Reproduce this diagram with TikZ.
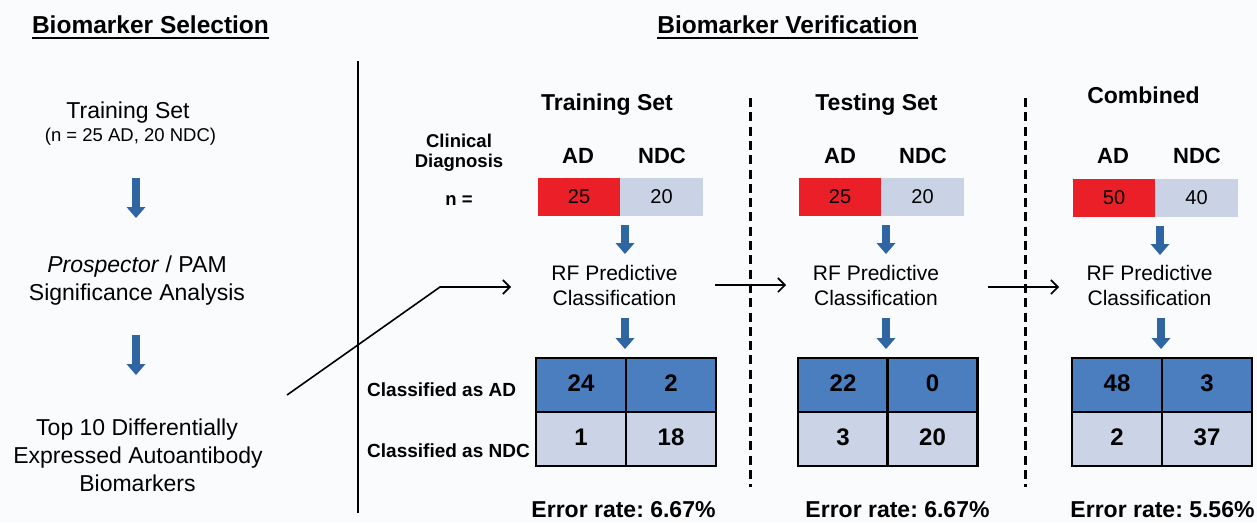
\documentclass[tikz,border=0pt]{standalone}
\usepackage{fontspec}
\setmainfont{Liberation Sans}
\usetikzlibrary{arrows.meta}
\frenchspacing
\definecolor{bgc}{HTML}{FAFBFD}
\definecolor{adred}{HTML}{EA1F27}
\definecolor{ndcgray}{HTML}{C9D3E5}
\definecolor{topblue}{HTML}{4A7EBF}
\definecolor{botgray}{HTML}{CBD4E6}
\definecolor{arrowblue}{HTML}{2F65A2}
\tikzset{
  txt/.style={anchor=base, inner sep=0pt, outer sep=0pt},
  hdr/.style={txt, font=\fontsize{24.5}{28}\selectfont\bfseries},
  lefttxt/.style={txt, font=\fontsize{23}{28}\selectfont},
  settitle/.style={txt, font=\fontsize{23}{28}\selectfont\bfseries},
  colhdr/.style={txt, font=\fontsize{22}{26}\selectfont\bfseries},
  smallbold/.style={txt, font=\fontsize{18.5}{22}\selectfont\bfseries},
  rftxt/.style={txt, font=\fontsize{21}{25}\selectfont},
  rowlbl/.style={anchor=base west, inner sep=0pt, font=\fontsize{19}{22}\selectfont\bfseries},
  errtxt/.style={txt, font=\fontsize{23}{28}\selectfont\bfseries},
  nbox/.style={minimum width=82.5pt, minimum height=38pt, inner sep=0pt, font=\fontsize{20}{24}\selectfont},
  redbox/.style={nbox, fill=adred},
  graybox/.style={nbox, fill=ndcgray},
  cell/.style={draw=black, line width=2.5pt, minimum width=90pt, minimum height=54pt, inner sep=0pt,
    text height=17.2pt, text depth=5pt, font=\fontsize{24}{28}\selectfont\bfseries},
  topcell/.style={cell, fill=topblue},
  botcell/.style={cell, fill=botgray},
  barrow/.style={draw=arrowblue, line width=8pt, -{Triangle[width=19pt,length=11pt,line width=0pt]}},
  thinarrow/.style={draw=black, line width=1.6pt, -{Straight Barb[length=7pt,width=14pt,line width=1.6pt]}},
  ulline/.style={draw=black, line width=2pt},
}
\begin{document}
\begin{tikzpicture}[x=1pt,y=-1pt]
\fill[bgc] (0,0) rectangle (1257,522);
\useasboundingbox (0,0) rectangle (1257,522);

% headers
\node[hdr] (hs) at (150.5,33) {Biomarker Selection};
\node[hdr] (hv) at (787.5,33) {Biomarker Verification};
\draw[ulline] ([yshift=-4.5pt]hs.base west) -- ([yshift=-4.5pt]hs.base east);
\draw[ulline] ([yshift=-4.5pt]hv.base west) -- ([yshift=-4.5pt]hv.base east);

% separators
\coordinate (vtop) at (358,61);
\coordinate (vbot) at (358,513);
\draw[line width=2.5pt] (vtop) -- (vbot);
\coordinate (d1top) at (750,98);
\coordinate (d1bot) at (750,487);
\coordinate (d2top) at (1025,98);
\coordinate (d2bot) at (1025,487);
\draw[line width=3pt, dash pattern=on 9pt off 5.3pt] (d1top) -- (d1bot);
\draw[line width=3pt, dash pattern=on 9pt off 5.3pt] (d2top) -- (d2bot);

% left column
\node[lefttxt] (lt1) at (128,118) {Training Set};
\node[txt, font=\fontsize{18.5}{22}\selectfont] (lt2) at (130.5,141) {(n = 25 AD, 20 NDC)};
\node[lefttxt] (lp1) at (137,272) {\textit{Prospector} / PAM};
\node[lefttxt] (lp2) at (137,300) {Significance Analysis};
\node[lefttxt] (lb1) at (137,435) {Top 10 Differentially};
\node[lefttxt] (lb2) at (138,463) {Expressed Autoantibody};
\node[lefttxt] (lb3) at (137.5,491) {Biomarkers};
\coordinate (la1s) at (136,178);
\coordinate (la1e) at (136,218);
\coordinate (la2s) at (136,335);
\coordinate (la2e) at (136,375);
\draw[barrow] (la1s) -- (la1e);
\draw[barrow] (la2s) -- (la2e);

% row labels
\node[smallbold] (cd1) at (459,147) {Clinical};
\node[smallbold] (cd2) at (459,167) {Diagnosis};
\node[smallbold] (neq) at (459,205) {n =};
\node[rowlbl] (rca) at (367,396) {Classified as AD};
\node[rowlbl] (rcn) at (367,457) {Classified as NDC};

% ===== Training set =====
\node[settitle] (t1) at (607,110) {Training Set};
\node[colhdr] (t1ad) at (578,163) {AD};
\node[colhdr] (t1ndc) at (662,163) {NDC};
\node[redbox] (t1r) at (579,196.5) {25};
\node[graybox] (t1g) at (661.5,196.5) {20};
\node[rftxt] (t1rf1) at (614.5,280) {RF Predictive};
\node[rftxt] (t1rf2) at (614.5,305) {Classification};
\node[topcell] (t1a) at (581,385) {24};
\node[topcell] (t1b) at (671,385) {2};
\node[botcell] (t1c) at (581,439) {1};
\node[botcell] (t1d) at (671,439) {18};
\node[errtxt] (t1e) at (623.5,517) {Error rate: 6.67\%};
\coordinate (t1a1s) at (625,225);
\coordinate (t1a1e) at (625,254);
\coordinate (t1a2s) at (625,318);
\coordinate (t1a2e) at (625,349);
\draw[barrow] (t1a1s) -- (t1a1e);
\draw[barrow] (t1a2s) -- (t1a2e);

% ===== Testing set =====
\node[settitle] (t2) at (876.5,110) {Testing Set};
\node[colhdr] (t2ad) at (840,163) {AD};
\node[colhdr] (t2ndc) at (923,163) {NDC};
\node[redbox] (t2r) at (840,197) {25};
\node[graybox] (t2g) at (922.5,197) {20};
\node[rftxt] (t2rf1) at (876,280) {RF Predictive};
\node[rftxt] (t2rf2) at (876,305) {Classification};
\node[topcell] (t2a) at (843,385) {22};
\node[topcell] (t2b) at (932.5,385) {0};
\node[botcell] (t2c) at (843,439) {3};
\node[botcell] (t2d) at (932.5,439) {20};
\node[errtxt] (t2e) at (897.5,517) {Error rate: 6.67\%};
\coordinate (t2a1s) at (886,225);
\coordinate (t2a1e) at (886,254);
\coordinate (t2a2s) at (886,318);
\coordinate (t2a2e) at (886,349);
\draw[barrow] (t2a1s) -- (t2a1e);
\draw[barrow] (t2a2s) -- (t2a2e);

% ===== Combined =====
\node[settitle] (t3) at (1143.5,103) {Combined};
\node[colhdr] (t3ad) at (1113,163) {AD};
\node[colhdr] (t3ndc) at (1197,163) {NDC};
\node[redbox] (t3r) at (1114,197.5) {50};
\node[graybox] (t3g) at (1196.5,197.5) {40};
\node[rftxt] (t3rf1) at (1149.5,280) {RF Predictive};
\node[rftxt] (t3rf2) at (1149.5,305) {Classification};
\node[topcell] (t3a) at (1117,385) {48};
\node[topcell] (t3b) at (1207,385) {3};
\node[botcell] (t3c) at (1117,439) {2};
\node[botcell] (t3d) at (1207,439) {37};
\node[errtxt] (t3e) at (1162.5,517) {Error rate: 5.56\%};
\coordinate (t3a1s) at (1160,226);
\coordinate (t3a1e) at (1160,255);
\coordinate (t3a2s) at (1161,318);
\coordinate (t3a2e) at (1161,349);
\draw[barrow] (t3a1s) -- (t3a1e);
\draw[barrow] (t3a2s) -- (t3a2e);

% thin connectors
\coordinate (c1s) at (287,395);
\coordinate (c1m) at (440,287);
\coordinate (c1e) at (511,287);
\draw[thinarrow] (c1s) -- (c1m) -- (c1e);
\coordinate (c2s) at (715,285);
\coordinate (c2e) at (786,285);
\draw[thinarrow] (c2s) -- (c2e);
\coordinate (c3s) at (988,287);
\coordinate (c3e) at (1059,287);
\draw[thinarrow] (c3s) -- (c3e);
\end{tikzpicture}
\end{document}
